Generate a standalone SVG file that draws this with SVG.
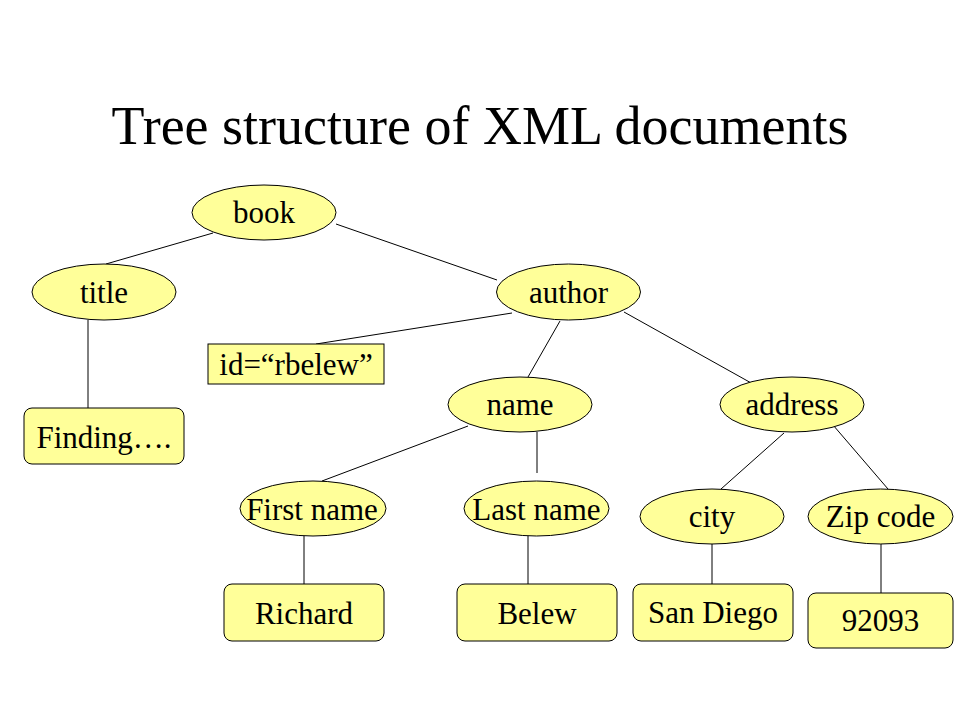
<svg xmlns="http://www.w3.org/2000/svg" width="960" height="720" viewBox="0 0 960 720">
<style>
  .n { fill: #FFFF99; stroke: #000; stroke-width: 1; }
  .t { font-family: "Liberation Serif", "Times New Roman", serif; font-size: 31px; fill: #000; text-anchor: middle; }
  .e { stroke: #000; stroke-width: 1; fill: none; }
  .title { font-family: "Liberation Serif", "Times New Roman", serif; font-size: 54px; fill: #000; text-anchor: middle; }
</style>
<rect x="0" y="0" width="960" height="720" fill="#fff"/>
<text class="title" x="480" y="144">Tree structure of XML documents</text>
<g id="connectors">
  <line class="e" x1="213" y1="233" x2="106" y2="264"/>
  <line class="e" x1="336" y1="224" x2="497" y2="280"/>
  <line class="e" x1="88" y1="320" x2="88" y2="408"/>
  <line class="e" x1="512" y1="313" x2="316" y2="344"/>
  <line class="e" x1="560" y1="321" x2="528" y2="377"/>
  <line class="e" x1="624" y1="312" x2="753" y2="384"/>
  <line class="e" x1="468" y1="426" x2="322" y2="481"/>
  <line class="e" x1="537" y1="432" x2="537" y2="473"/>
  <line class="e" x1="784" y1="433" x2="721" y2="489"/>
  <line class="e" x1="833" y1="425" x2="888" y2="489"/>
  <line class="e" x1="304" y1="536" x2="304" y2="584"/>
  <line class="e" x1="528" y1="536" x2="528" y2="584"/>
  <line class="e" x1="712" y1="544" x2="712" y2="584"/>
  <line class="e" x1="881" y1="544" x2="881" y2="593"/>
</g>
<g id="book"><ellipse class="n" cx="264" cy="212.5" rx="72" ry="27.5"/><text class="t" x="264" y="223">book</text></g>
<g id="title"><ellipse class="n" cx="104" cy="292" rx="72" ry="28"/><text class="t" x="104" y="303">title</text></g>
<g id="author"><ellipse class="n" cx="568.5" cy="292" rx="72" ry="28"/><text class="t" x="568.5" y="303">author</text></g>
<g id="finding"><rect class="n" x="24" y="408" width="160" height="56" rx="8"/><text class="t" x="104" y="448">Finding….</text></g>
<g id="id-attr"><rect class="n" x="208" y="344" width="176" height="40"/><text class="t" x="296" y="375">id=“rbelew”</text></g>
<g id="name"><ellipse class="n" cx="520" cy="404.5" rx="72" ry="27.5"/><text class="t" x="520" y="415">name</text></g>
<g id="address"><ellipse class="n" cx="792" cy="404.5" rx="72" ry="27.5"/><text class="t" x="792" y="415">address</text></g>
<g id="firstname"><ellipse class="n" cx="313" cy="508.5" rx="73" ry="27.5"/><text class="t" x="312" y="520">First name</text></g>
<g id="lastname"><ellipse class="n" cx="536.5" cy="508.5" rx="72.5" ry="27.5"/><text class="t" x="536.5" y="520">Last name</text></g>
<g id="city"><ellipse class="n" cx="712" cy="516.5" rx="72" ry="27.5"/><text class="t" x="712" y="527">city</text></g>
<g id="zipcode"><ellipse class="n" cx="880.5" cy="516.5" rx="72.5" ry="27.5"/><text class="t" x="880.5" y="527">Zip code</text></g>
<g id="richard"><rect class="n" x="224" y="584" width="160" height="57" rx="8"/><text class="t" x="304" y="624">Richard</text></g>
<g id="belew"><rect class="n" x="457" y="584" width="160" height="57" rx="8"/><text class="t" x="537" y="624">Belew</text></g>
<g id="sandiego"><rect class="n" x="633" y="584" width="160" height="57" rx="8"/><text class="t" x="713" y="623">San Diego</text></g>
<g id="zip"><rect class="n" x="808" y="593" width="145" height="55" rx="8"/><text class="t" x="880.5" y="631">92093</text></g>
</svg>
